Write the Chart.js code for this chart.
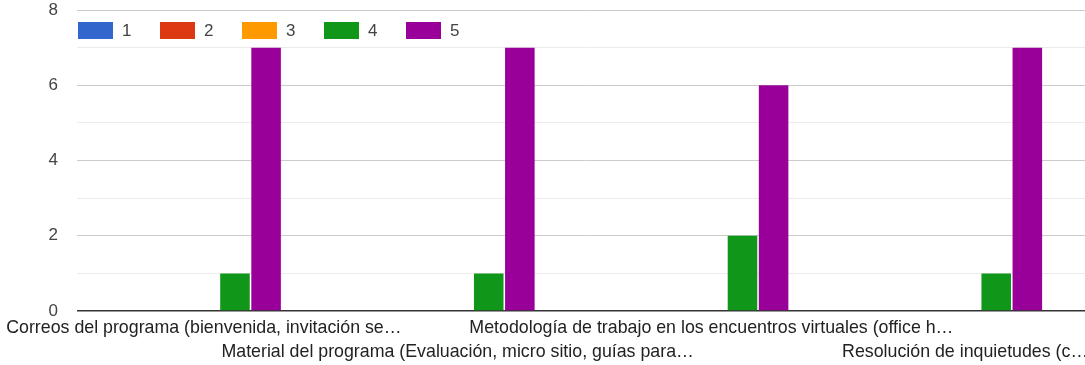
<!DOCTYPE html>
<html>
<head>
<meta charset="utf-8">
<script src="https://cdn.jsdelivr.net/npm/chart.js@4/dist/chart.umd.min.js"></script>
<style>
  html, body { margin: 0; padding: 0; overflow: hidden; background: #fff; }
  #wrap { position: relative; width: 1092px; height: 365px; }
</style>
</head>
<body>
<div id="wrap"><canvas id="grafico"></canvas></div>
<script>
// Respuestas por aspecto evaluado (escala 1 a 5)
const categorias = [
    'Correos del programa (bienvenida, invitación se…',
    'Material del programa (Evaluación, micro sitio, guías para…',
    'Metodología de trabajo en los encuentros virtuales (office h…',
    'Resolución de inquietudes (c…'
];
const nivel1 = [0, 0, 0, 0];
const nivel2 = [0, 0, 0, 0];
const nivel3 = [0, 0, 0, 0];
const nivel4 = [1, 1, 2, 1];
const nivel5 = [7, 7, 6, 7];
const nombresNivel = ['1', '2', '3', '4', '5'];
const coloresNivel = ['#3366cc', '#dc3912', '#ff9900', '#109618', '#990099'];
const ticksY = [0, 2, 4, 6, 8];

const fuente = '"Liberation Sans", Arial, sans-serif';

// etiquetas alternadas en dos filas
const etiquetas = categorias.map((c, i) => i % 2 === 0 ? [c, ''] : ['', c]);

// leyenda dibujada dentro del área del gráfico, arriba a la izquierda
const leyendaInterna = {
    id: 'leyendaInterna',
    afterDraw(chart) {
        const ctx = chart.ctx;
        const area = chart.chartArea;
        ctx.save();
        ctx.font = '17px ' + fuente;
        ctx.textBaseline = 'middle';
        ctx.textAlign = 'left';
        chart.data.datasets.forEach((ds, i) => {
            const x = area.left + 1 + i * 82;
            const y = 22;
            ctx.fillStyle = ds.backgroundColor;
            ctx.fillRect(x, y, 35, 17);
            ctx.fillStyle = '#444';
            ctx.fillText(ds.label, x + 44, y + 9);
        });
        ctx.restore();
    }
};

const series = [nivel1, nivel2, nivel3, nivel4, nivel5];

new Chart(document.getElementById('grafico'), {
    type: 'bar',
    data: {
        labels: etiquetas,
        datasets: series.map((d, i) => ({
            label: nombresNivel[i],
            data: d,
            backgroundColor: coloresNivel[i],
            barPercentage: 0.95,
            categoryPercentage: 0.613
        }))
    },
    options: {
        responsive: true,
        maintainAspectRatio: false,
        animation: false,
        events: [],
        layout: { padding: { top: 10, right: 0, left: 0, bottom: 0 } },
        plugins: {
            legend: { display: false },
            tooltip: { enabled: false }
        },
        scales: {
            x: {
                grid: { display: false, drawTicks: false },
                border: { display: false },
                ticks: {
                    autoSkip: false,
                    maxRotation: 0,
                    minRotation: 0,
                    padding: 5,
                    color: '#222',
                    font: { family: fuente, size: 17.8, lineHeight: 1.35 }
                },
                afterFit(scale) {
                    scale.height = 54;
                    scale.paddingLeft = 0;
                    scale.paddingRight = 0;
                }
            },
            y: {
                min: 0,
                max: 8,
                border: { display: false },
                grid: {
                    drawTicks: false,
                    color: c => c.tick.value === 0 ? '#333' : (c.tick.value % 2 === 0 ? '#cccccc' : '#ebebeb'),
                    lineWidth: c => c.tick.value === 0 ? 1.5 : 1
                },
                ticks: {
                    stepSize: 1,
                    padding: 19,
                    color: '#444',
                    font: { family: fuente, size: 17 },
                    callback: v => ticksY.includes(v) ? v : ''
                },
                afterFit(scale) {
                    scale.width = 77;
                    scale.paddingTop = 0;
                    scale.paddingBottom = 0;
                }
            }
        }
    },
    plugins: [leyendaInterna]
});
</script>
</body>
</html>
